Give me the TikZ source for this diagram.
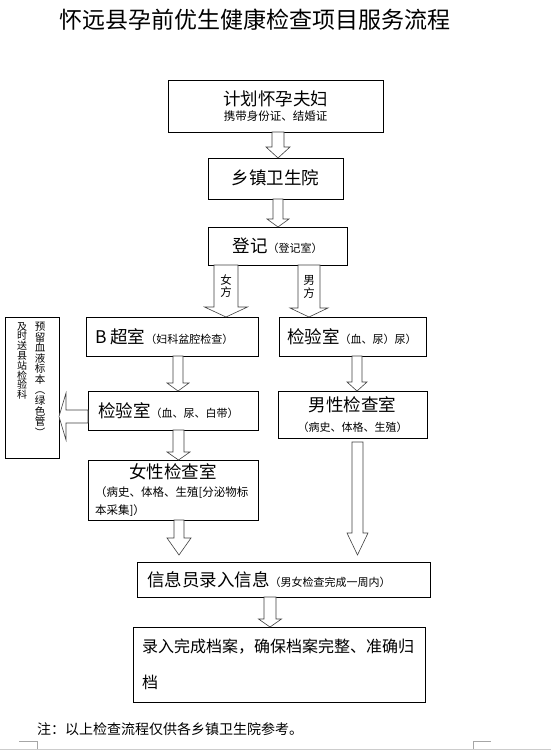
\documentclass[tikz,border=0pt]{standalone}
\usepackage{fontspec}
\setmainfont{Noto Sans CJK SC}
\usetikzlibrary{calc}
\tikzset{
  box/.style={draw=black, line width=0.8pt, anchor=north west, inner sep=0pt, outer sep=0pt},
  boxl/.style 2 args={box, text width=#1, inner xsep=#2, align=left},
  blockarr/.style={draw=black!75, line width=0.6pt, fill=white, line join=miter},
  arrlabel/.style={font=\fontsize{11.5}{12.5}\selectfont, align=center, inner sep=0pt},
  margin/.style={draw=black!35, line width=0.6pt}
}
\newcommand\bigt[1]{{\fontsize{17.5}{20}\selectfont #1}}
\newcommand\smt[1]{{\fontsize{11}{13}\selectfont #1}}
\newcommand\rp[1]{\rotatebox[origin=c]{-90}{#1}}
% down block arrow: start, end, half shaft, half head, head length
\newcommand\downarr[5]{\draw[blockarr] let \p1=#1, \p2=#2 in
  (\x1-#3,\y1) -- (\x1-#3,\y2+#5) -- (\x1-#4,\y2+#5) -- (\x1,\y2) --
  (\x1+#4,\y2+#5) -- (\x1+#3,\y2+#5) -- (\x1+#3,\y1) -- cycle;}
\newcommand\leftarr[5]{\draw[blockarr] let \p1=#1, \p2=#2 in
  (\x1,\y1+#3) -- (\x2+#5,\y1+#3) -- (\x2+#5,\y1+#4) -- (\x2,\y1) --
  (\x2+#5,\y1-#4) -- (\x2+#5,\y1-#3) -- (\x1,\y1-#3) -- cycle;}
\begin{document}
\begin{tikzpicture}[x=1pt,y=-1pt]
\useasboundingbox (0,0) rectangle (551,750);
\node[font=\fontsize{23}{26}\selectfont, inner sep=0pt] (title) at (255,20) {怀远县孕前优生健康检查项目服务流程};

\node[box, minimum width=215, minimum height=52, align=center] (b1) at (168,80)
  {\bigt{计划怀孕夫妇}\\[3pt]\fontsize{11.5}{13}\selectfont 携带身份证、结婚证};
\node[box, minimum width=135, minimum height=41] (b2) at (208,158) {\raisebox{3pt}{\bigt{乡镇卫生院}}};
\node[box, minimum width=139, minimum height=38] (b3) at (208,227) {\raisebox{-2pt}{\bigt{登记}\smt{（登记室）}}};

\node[boxl={154pt}{9pt}, minimum height=39] (bus) at (86,317) {\raisebox{-2pt}{\bigt{B\hspace{4pt}超室}\smt{（妇科盆腔检查）}}};
\node[boxl={150pt}{10pt}, minimum height=39] (labf) at (88,391) {\raisebox{-2pt}{\bigt{检验室}\smt{（血、尿、白带）}}};
\node[boxl={131pt}{8pt}, minimum height=39] (labm) at (279,317) {\raisebox{-2pt}{\bigt{检验室}\smt{（血、尿）尿）}}};

\node[box, minimum width=149, minimum height=47, align=center, font=\fontsize{11}{20}\selectfont] (mexam) at (278,391)
  {\bigt{男性检查室}\\（病史、体格、生殖）};
\node[boxl={156pt}{7pt}, minimum height=60, font=\fontsize{11.5}{18}\selectfont] (fexam) at (88,460)
  {\makebox[\linewidth][c]{\bigt{女性检查室}}\\（病史、体格、生殖[分泌物标\\本采集]）};

\node[boxl={273pt}{10pt}, minimum height=35] (info) at (137,562) {\bigt{信息员录入信息}\smt{（男女检查完成一周内）}};
\node[boxl={274pt}{9pt}, minimum height=75, font=\fontsize{16}{36}\selectfont] (final) at (133,627)
  {录入完成档案，确保档案完整、准确归\\档};

\node[box, minimum width=54, minimum height=141] (keep) at (5,317) {};
\node[font=\fontsize{10.5}{10.6}\selectfont, align=center, inner sep=0pt, anchor=north] (keepa) at (40,322)
  {预\\留\\血\\液\\标\\本\\\rp{（}\\绿\\色\\管\\\rp{）}};
\node[font=\fontsize{10}{9.8}\selectfont, align=center, inner sep=0pt, anchor=north] (keepb) at (22,322)
  {及\\时\\送\\县\\站\\检\\验\\科};

\node[anchor=west, font=\fontsize{14}{16}\selectfont, inner sep=0pt] (note) at (37,729) {注：以上检查流程仅供各乡镇卫生院参考。};

% arrows
\downarr{([xshift=2.5pt]b1.south)}{(b2.north)}{6pt}{12pt}{11pt}
\downarr{([xshift=2.5pt]b2.south)}{(b3.north)}{5pt}{11pt}{8pt}
\downarr{([xshift=-51.5pt]b3.south)}{(bus.north)}{12pt}{21.5pt}{10pt}
\downarr{([xshift=31.5pt]b3.south)}{(labm.north)}{11pt}{19pt}{9pt}
\downarr{([xshift=6pt]bus.south)}{(labf.north)}{5pt}{11pt}{8pt}
\downarr{([xshift=4.5pt]labm.south)}{(mexam.north)}{5pt}{10pt}{9pt}
\downarr{([xshift=5.5pt]labf.south)}{(fexam.north)}{5.5pt}{11.5pt}{8pt}
\downarr{([xshift=6pt]fexam.south)}{([yshift=7pt]info.north)}{5pt}{12pt}{17pt}
\downarr{([xshift=5pt,yshift=-4pt]mexam.south)}{([yshift=7pt]info.north)}{5.5pt}{10.5pt}{22pt}
\downarr{([xshift=-13.5pt]info.south)}{(final.north)}{6pt}{11.5pt}{8pt}
\leftarr{([yshift=-6pt]labf.west)}{(keep.east)}{6.5pt}{23.5pt}{7pt}

\node[arrlabel] (lf) at (226,286) {女\\方};
\node[arrlabel] (lm) at (309,287) {男\\方};

% page margin marks
\draw[margin] (19,741) -- (37,741) -- (37,750);
\draw[margin] (491,741) -- (473,741) -- (473,750);
\draw[draw=black!20, line width=0.8pt] (0,749.5) -- (551,749.5);
\end{tikzpicture}
\end{document}
